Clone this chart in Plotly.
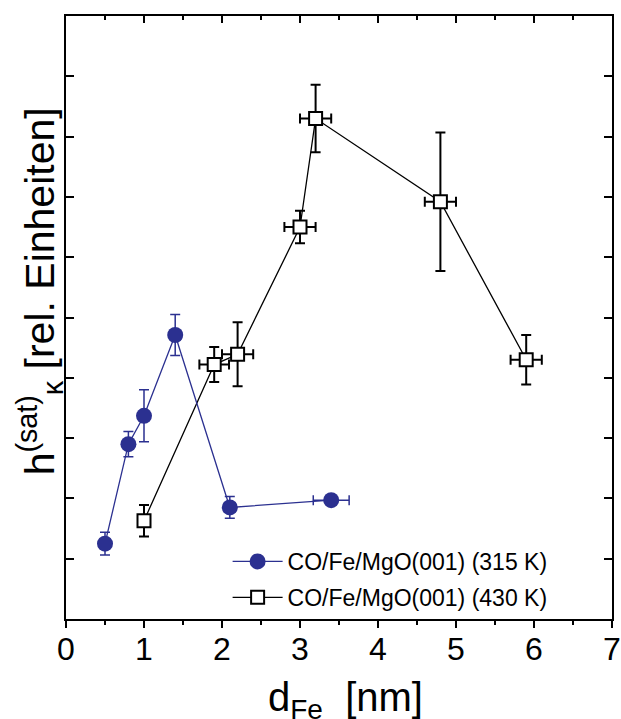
import plotly.graph_objects as go

# Series 1: CO/Fe/MgO(001) (315 K)
x_315 = [0.5, 0.8, 1.0, 1.4, 2.1, 3.4]
y_315 = [1.25, 2.90, 3.37, 4.71, 1.85, 1.97]
yerr_315 = [0.19, 0.21, 0.43, 0.34, 0.18, 0.05]
xerr_315 = [0.0, 0.0, 0.0, 0.07, 0.07, 0.23]

# Series 2: CO/Fe/MgO(001) (430 K)
x_430 = [1.0, 1.9, 2.2, 3.0, 3.2, 4.8, 5.9]
y_430 = [1.63, 4.22, 4.39, 6.50, 8.30, 6.92, 4.30]
yerr_430 = [0.26, 0.29, 0.53, 0.27, 0.56, 1.15, 0.41]
xerr_430 = [0.0, 0.19, 0.20, 0.20, 0.20, 0.20, 0.20]

names = ["CO/Fe/MgO(001) (315 K)", "CO/Fe/MgO(001) (430 K)"]
x_ticks = [0, 1, 2, 3, 4, 5, 6, 7]
x_title = "d<sub>Fe</sub>&nbsp;&nbsp;[nm]"
y_title = "h<sup>(sat)</sup><sub>κ</sub>&nbsp;[rel. Einheiten]"

BLUE = "#2B3090"
FONT = "Arial, Liberation Sans, sans-serif"

fig = go.Figure()

fig.add_trace(go.Scatter(
    x=x_430, y=y_430, name=names[1], mode="lines+markers",
    line=dict(color="black", width=1.3),
    marker=dict(symbol="square", size=13, color="white",
                line=dict(color="black", width=2)),
    error_y=dict(type="data", array=yerr_430, color="black", thickness=2, width=5),
    error_x=dict(type="data", array=xerr_430, color="black", thickness=2, width=5),
    legendrank=2, legendgroup="b",
))

fig.add_trace(go.Scatter(
    x=x_315, y=y_315, name=names[0], mode="lines+markers",
    line=dict(color=BLUE, width=1.3),
    marker=dict(symbol="circle", size=16, color=BLUE, line=dict(width=0)),
    error_y=dict(type="data", array=yerr_315, color=BLUE, thickness=1.5, width=5),
    error_x=dict(type="data", array=xerr_315, color=BLUE, thickness=1.5, width=5),
    legendrank=1, legendgroup="a",
))

# invisible trace to activate the top axis
fig.add_trace(go.Scatter(x=[0, 7], y=[0, 0], xaxis="x2", mode="markers",
                         marker=dict(opacity=0), showlegend=False, hoverinfo="skip"))

fig.update_layout(
    width=621, height=719,
    margin=dict(l=66, r=9, t=16, b=100, autoexpand=False),
    paper_bgcolor="white", plot_bgcolor="white",
    font=dict(family=FONT, color="black"),
    showlegend=True,
    legend=dict(x=0.296, y=0.0, xanchor="left", yanchor="bottom",
                bgcolor="rgba(0,0,0,0)", font=dict(size=23, family=FONT),
                traceorder="grouped", tracegroupgap=3, itemwidth=50),
    xaxis=dict(
        range=[0, 7], tickvals=x_ticks, ticktext=[str(t) for t in x_ticks],
        ticks="outside", ticklen=7, tickwidth=2, tickcolor="black",
        minor=dict(dtick=0.5, ticks="outside", ticklen=4, tickwidth=2, tickcolor="black"),
        showline=True, linewidth=2, linecolor="black", mirror=True,
        showgrid=False, zeroline=False, automargin=False,
        tickfont=dict(size=32, family=FONT), ticklabelstandoff=-6,
    ),
    xaxis2=dict(
        range=[0, 7], overlaying="x", side="top", anchor="y",
        tickvals=x_ticks, showticklabels=False, automargin=False,
        ticks="inside", ticklen=7, tickwidth=2, tickcolor="black",
        minor=dict(dtick=0.5, ticks="inside", ticklen=4, tickwidth=2, tickcolor="black"),
        showline=False, showgrid=False, zeroline=False,
    ),
    yaxis=dict(
        range=[0, 10], tickvals=[2, 4, 6, 8], showticklabels=False,
        ticks="inside", ticklen=8, tickwidth=2, tickcolor="black",
        minor=dict(tickvals=[1, 3, 5, 7, 9], ticks="inside", ticklen=4, tickwidth=2, tickcolor="black"),
        showline=True, linewidth=2, linecolor="black", mirror="allticks",
        showgrid=False, zeroline=False, automargin=False,
    ),
    annotations=[
        dict(text=x_title, xref="paper", yref="paper", x=0.512, y=-0.135,
             xanchor="center", yanchor="middle", showarrow=False,
             font=dict(size=40, family=FONT)),
        dict(text=y_title, xref="paper", yref="paper", x=-0.048, y=0.543,
             xanchor="center", yanchor="middle", showarrow=False, textangle=-90,
             font=dict(size=41, family=FONT)),
    ],
)

fig.write_html("out.html")
